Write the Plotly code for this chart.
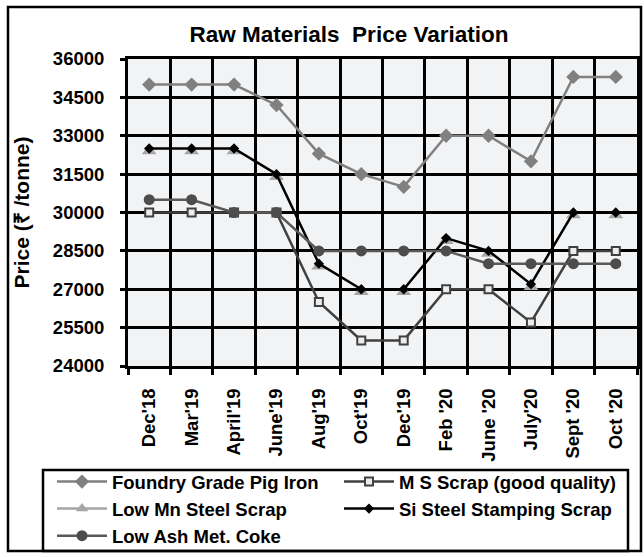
import plotly.graph_objects as go

months = ["Dec'18", "Mar'19", "April'19", "June'19", "Aug'19", "Oct'19", "Dec'19",
          "Feb '20", "June '20", "July'20", "Sept '20", "Oct '20"]
foundry_pig_iron = [35000, 35000, 35000, 34200, 32300, 31500, 31000, 33000, 33000, 32000, 35300, 35300]
ms_scrap = [30000, 30000, 30000, 30000, 26500, 25000, 25000, 27000, 27000, 25700, 28500, 28500]
low_mn_scrap = [32400, 32400, 32400, 31400, 27900, 26900, 26900, 28900, 28400, 27100, 29900, 29900]
si_steel_scrap = [32500, 32500, 32500, 31500, 28000, 27000, 27000, 29000, 28500, 27200, 30000, 30000]
low_ash_coke = [30500, 30500, 30000, 30000, 28500, 28500, 28500, 28500, 28000, 28000, 28000, 28000]
y_ticks = [24000, 25500, 27000, 28500, 30000, 31500, 33000, 34500, 36000]
y_tick_labels = [str(v) for v in y_ticks]

FONT = "Liberation Sans, Arial, sans-serif"

fig = go.Figure()
fig.add_trace(go.Scatter(x=months, y=foundry_pig_iron, name="Foundry Grade Pig Iron",
                         mode="lines+markers", line=dict(color="#808080", width=2.5),
                         marker=dict(symbol="diamond", size=11, color="#808080")))
fig.add_trace(go.Scatter(x=months, y=ms_scrap, name="M S Scrap (good quality)",
                         mode="lines+markers", line=dict(color="#404040", width=2.5),
                         marker=dict(symbol="square", size=8, color="#EDEDED",
                                     line=dict(color="#404040", width=2))))
fig.add_trace(go.Scatter(x=months, y=low_mn_scrap, name="Low Mn Steel Scrap",
                         mode="markers", showlegend=False,
                         marker=dict(symbol="triangle-up", size=13, color="#A6A6A6")))
fig.add_trace(go.Scatter(x=[None], y=[None], name="Low Mn Steel Scrap",
                         mode="lines+markers", line=dict(color="#A6A6A6", width=2.5),
                         marker=dict(symbol="triangle-up", size=11, color="#A6A6A6")))
fig.add_trace(go.Scatter(x=months, y=si_steel_scrap, name="Si Steel Stamping Scrap",
                         mode="lines+markers", line=dict(color="#000000", width=2.5),
                         marker=dict(symbol="diamond", size=8, color="#000000")))
fig.add_trace(go.Scatter(x=months, y=low_ash_coke, name="Low Ash Met. Coke",
                         mode="lines+markers", line=dict(color="#595959", width=2.5),
                         marker=dict(symbol="circle", size=11, color="#4D4D4D")))

W, H = 644, 557
L, R, T, B = 128, 7, 59, 191
pw, ph = W - L - R, H - T - B

def px(x):
    return (x - L) / pw

def py(y):
    return (H - B - y) / ph

fig.update_layout(
    width=W, height=H,
    margin=dict(l=L, r=R, t=T, b=B, autoexpand=False),
    paper_bgcolor="white", plot_bgcolor="#F2F3F5",
    font=dict(family=FONT, color="black", size=18, weight="bold"),
    title=dict(text="Raw Materials&nbsp; Price Variation", x=349 / W, xref="container",
               xanchor="center", y=1 - 34.5 / H, yref="container", yanchor="middle",
               font=dict(size=22.5, family=FONT, weight="bold", color="black")),
    showlegend=True,
    legend=dict(orientation="h", x=px(52), y=py(463), xanchor="left", yanchor="top",
                borderwidth=0, bgcolor="rgba(0,0,0,0)",
                font=dict(size=18.5, family=FONT, weight="bold"),
                entrywidth=222, itemwidth=50, traceorder="normal"),
    shapes=[dict(type="rect", xref="paper", yref="paper",
                 x0=px(8), x1=px(641), y0=py(551), y1=py(7),
                 line=dict(color="black", width=2.5)),
            dict(type="rect", xref="paper", yref="paper",
                 x0=px(43), x1=px(628), y0=py(551), y1=py(470),
                 line=dict(color="black", width=2.5))],
)
fig.update_xaxes(type="category", range=[-0.5, len(months) - 0.5],
                 tickson="boundaries", ticks="outside", ticklen=6,
                 tickwidth=3, tickcolor="black", tickangle=-90,
                 showgrid=True, gridcolor="black", gridwidth=3,
                 showline=True, linecolor="black", linewidth=3, mirror=True,
                 tickfont=dict(size=18.5, family=FONT, weight="bold"), ticklabelstandoff=12)
fig.update_yaxes(range=[24000, 36000], tickvals=y_ticks, ticktext=y_tick_labels,
                 ticks="outside", ticklen=5, tickwidth=3, tickcolor="black",
                 showgrid=True, gridcolor="black", gridwidth=3, zeroline=False,
                 showline=True, linecolor="black", linewidth=3, mirror=True,
                 tickfont=dict(size=18.5, family=FONT, weight="bold"), ticklabelstandoff=12,
                 title=dict(text="Price (₹ /tonne)", standoff=18,
                            font=dict(size=21, family=FONT, weight="bold")))

fig.write_html("out.html", config={"displayModeBar": False},
               post_script="document.body.style.margin='0';")
